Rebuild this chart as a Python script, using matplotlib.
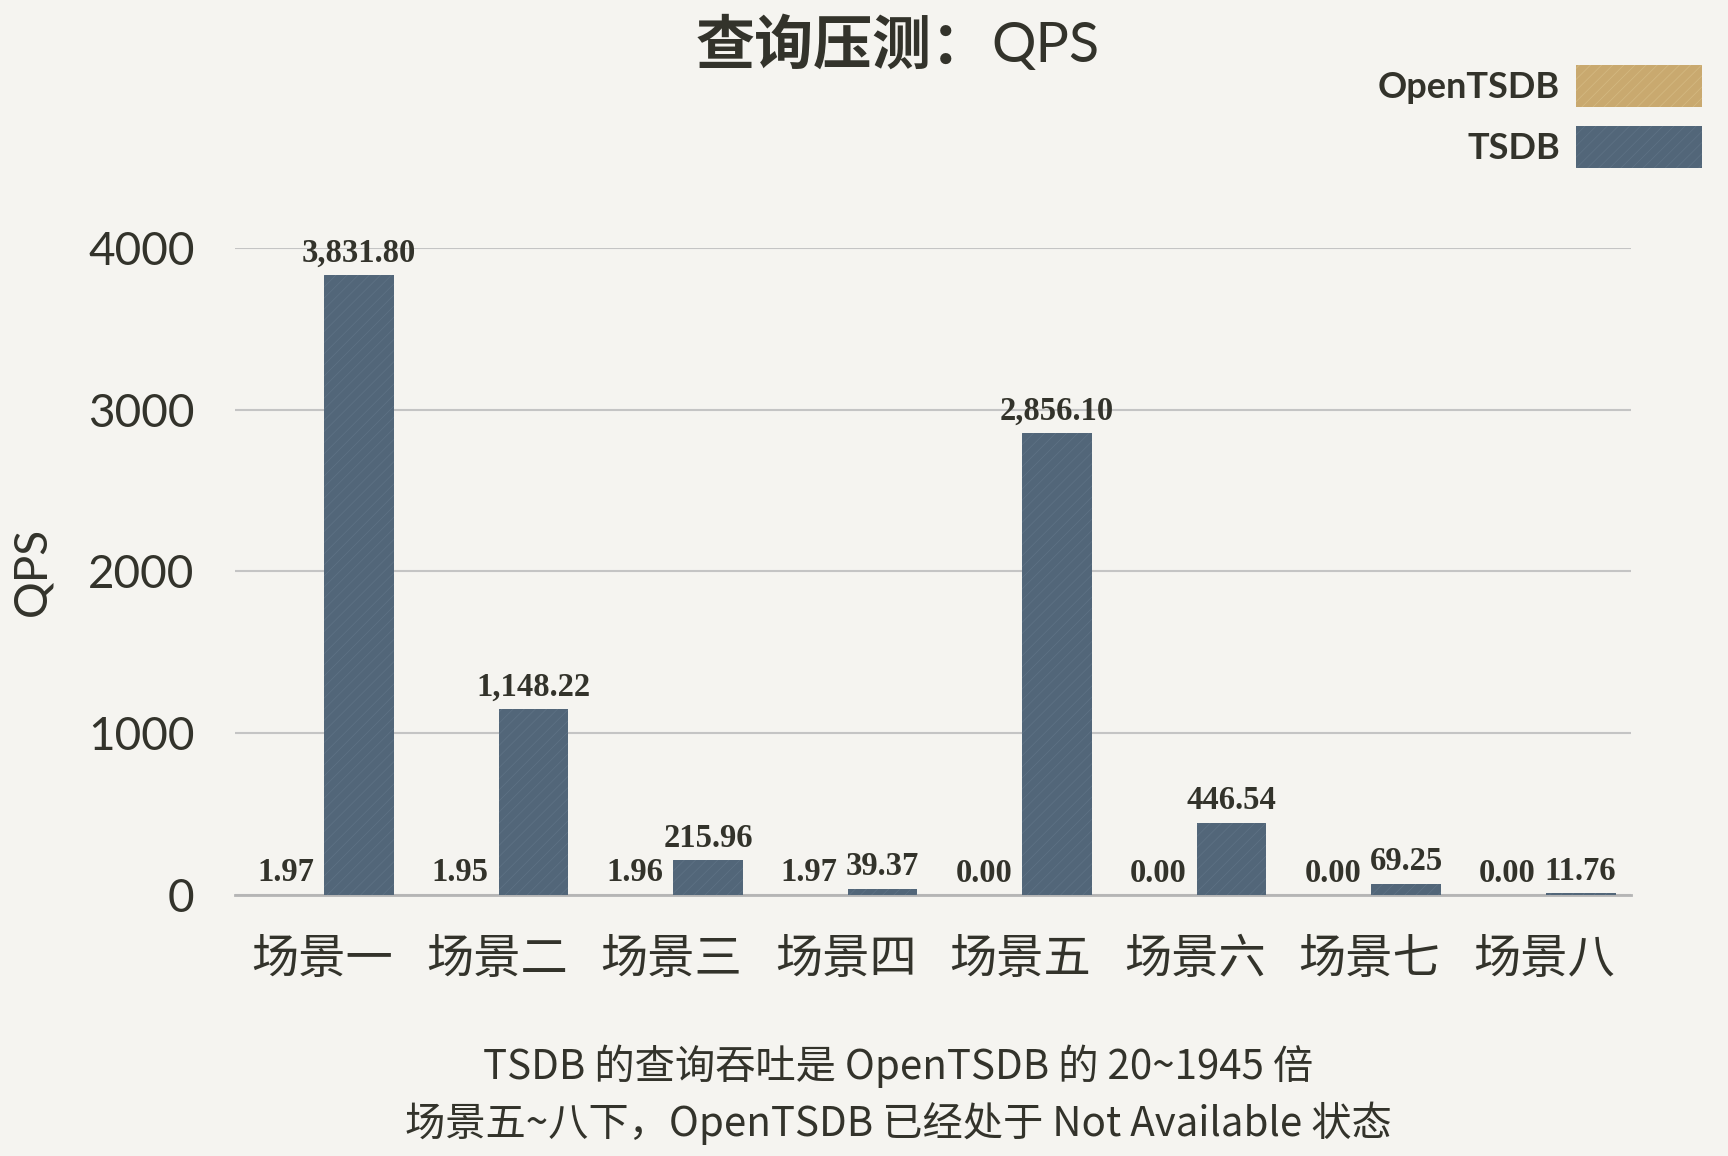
import matplotlib
matplotlib.use("Agg")
import matplotlib.pyplot as plt
import numpy as np

plt.rcParams['font.family'] = ['Lato', 'Noto Sans CJK SC', 'DejaVu Sans']
plt.rcParams['hatch.linewidth'] = 0.6

# data
scenes = ['场景一', '场景二', '场景三', '场景四', '场景五', '场景六', '场景七', '场景八']
opentsdb = [1.97, 1.95, 1.96, 1.97, 0.00, 0.00, 0.00, 0.00]
tsdb = [3831.80, 1148.22, 215.96, 39.37, 2856.10, 446.54, 69.25, 11.76]
yticks = [0, 1000, 2000, 3000, 4000]

title_cn = '查询压测：'
title_en = 'QPS'
notes = ['TSDB 的查询吞吐是 OpenTSDB 的 20~1945 倍',
         '场景五~八下，OpenTSDB 已经处于 Not Available 状态']

bg = '#f5f4f0'
ink = '#33332b'
c_open = '#c9a96f'
c_tsdb = '#526679'

fig = plt.figure(figsize=(17.28, 11.56), dpi=100, facecolor=bg)
ax = fig.add_axes([0.136, 0.2258, 0.808, 0.5597])
ax.set_facecolor(bg)

x = np.arange(len(scenes))
w = 0.4
b1 = ax.bar(x - 0.21, opentsdb, w, color=c_open, edgecolor='#d3b880', lw=0,
            hatch='///', label='OpenTSDB', zorder=3)
b2 = ax.bar(x + 0.21, tsdb, w, color=c_tsdb, edgecolor='#5d7184', lw=0,
            hatch='///', label='TSDB', zorder=3)

lab_font = dict(family=['Liberation Serif'], fontweight='bold', fontsize=23.5, color=ink)
for xi, v in zip(x - 0.21, opentsdb):
    ax.text(xi, v + 40, f'{v:,.2f}', ha='center', va='bottom', **lab_font)
for xi, v in zip(x + 0.21, tsdb):
    ax.text(xi, v + 40, f'{v:,.2f}', ha='center', va='bottom', **lab_font)

ax.set_xlim(-0.5, len(scenes) - 0.5)
ax.set_ylim(0, 4000)
ax.set_yticks(yticks)
ax.set_yticklabels([str(t) for t in yticks], fontsize=33, color=ink, family=['Lato'])
ax.set_xticks(x)
ax.set_xticklabels(scenes, fontsize=34, color=ink, family=['Noto Sans CJK SC'])
ax.tick_params(axis='both', length=0)
ax.tick_params(axis='x', pad=29)
ax.tick_params(axis='y', pad=29)
ax.grid(axis='y', color='#c4c4c4', lw=1.5, zorder=0)
for s in ['top', 'right', 'left']:
    ax.spines[s].set_visible(False)
ax.spines['bottom'].set_color('#b5b5b5')
ax.spines['bottom'].set_linewidth(2)

ax.set_ylabel('QPS', fontsize=33, color=ink, family=['Lato'])
ax.yaxis.set_label_coords(-0.13, 0.5)

# title
fig.text(0.573, 0.960, title_cn, ha='right', va='center', fontsize=42.5, fontweight='bold',
         color=ink, family=['Noto Sans CJK SC'])
fig.text(0.574, 0.960, title_en, ha='left', va='center', fontsize=40,
         color=ink, family=['Lato'])

leg = fig.legend(handles=[b1, b2], loc='upper right', bbox_to_anchor=(1.004, 0.972),
                 frameon=False, markerfirst=False, handlelength=3.5, handleheight=1.4,
                 labelspacing=0.55, handletextpad=0.45,
                 prop=dict(family=['Lato'], weight='bold', size=26))
for t in leg.get_texts():
    t.set_color(ink)

fig.text(0.52, 0.078, notes[0], ha='center', va='center', fontsize=29, color=ink,
         family=['Noto Sans CJK SC'])
fig.text(0.52, 0.028, notes[1], ha='center', va='center', fontsize=29, color=ink,
         family=['Noto Sans CJK SC'])

fig.savefig('out.png', dpi=100, facecolor=bg)
